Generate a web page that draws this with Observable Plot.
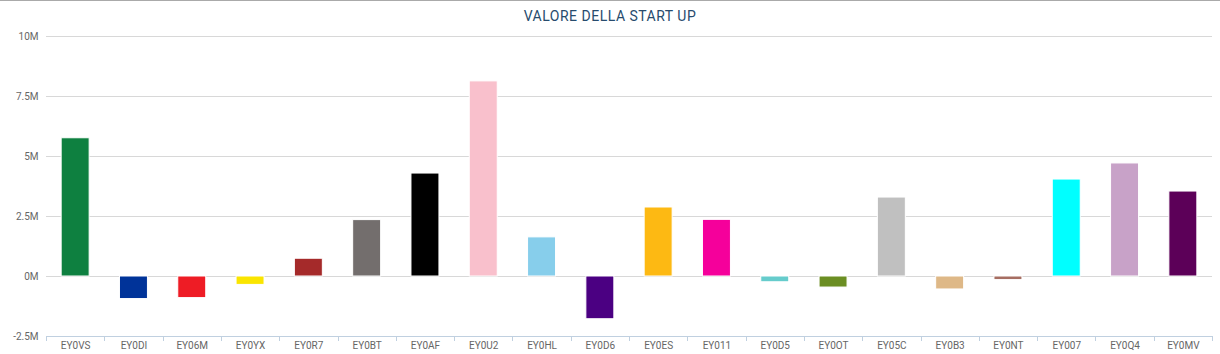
<!DOCTYPE html>
<html>
<head>
<meta charset="utf-8">
<script src="https://cdn.jsdelivr.net/npm/d3@7"></script>
<script src="https://cdn.jsdelivr.net/npm/@observablehq/plot@0.6"></script>
<style>
  html, body { margin: 0; padding: 0; background: #fff; }
  #wrap { width: 1220px; height: 354px; border-top: 1px solid #aaa; box-sizing: border-box; overflow: hidden; }
  #title { height: 29px; line-height: 29px; padding-top: 1px; box-sizing: border-box; text-align: center;
           font-family: Roboto, sans-serif; font-size: 14px; letter-spacing: 0.5px; color: #274b6d; }
  svg { display: block; }
</style>
</head>
<body>
<div id="wrap">
  <div id="title">VALORE DELLA START UP</div>
  <div id="chart"></div>
</div>
<script>
const categories = ["EY0VS","EY0DI","EY06M","EY0YX","EY0R7","EY0BT","EY0AF","EY0U2","EY0HL","EY0D6",
                    "EY0ES","EY011","EY0D5","EY0OT","EY05C","EY0B3","EY0NT","EY007","EY0Q4","EY0MV"];
const values = [5.76e6, -0.94e6, -0.90e6, -0.35e6, 0.74e6, 2.35e6, 4.29e6, 8.13e6, 1.63e6, -1.78e6,
                2.875e6, 2.36e6, -0.24e6, -0.46e6, 3.29e6, -0.54e6, -0.15e6, 4.04e6, 4.71e6, 3.54e6];
const colors = ["#0e8040","#003399","#ee1c25","#fae500","#a52a2a","#736e6d","#000000","#f9c0cc","#87ceeb","#4b0082",
                "#fdb913","#f5009b","#66cccc","#6b8e23","#c0c0c0","#deb887","#a66e62","#00ffff","#c8a2c8","#5c0058"];
const yTicks = [-2.5e6, 0, 2.5e6, 5e6, 7.5e6, 10e6];

const data = categories.map((c, i) => ({cat: c, val: values[i], color: colors[i]}));

const plot = Plot.plot({
  width: 1220,
  height: 324,
  marginLeft: 46,
  marginRight: 8,
  marginTop: 6,
  marginBottom: 18,
  style: {fontFamily: "Roboto, sans-serif", fontSize: "10px", color: "#666", background: "#fff"},
  x: {domain: categories, paddingInner: 0.52, paddingOuter: 0.26, round: false, tickSize: 0, tickPadding: 5, label: null},
  y: {domain: [-2.5e6, 10e6], ticks: yTicks, tickSize: 0, tickPadding: 8, label: null,
      tickFormat: d => (d / 1e6) + "M"},
  marks: [
    Plot.ruleY(yTicks.slice(1), {stroke: "#d8d8d8", strokeWidth: 1}),
    Plot.ruleY([yTicks[0]], {stroke: "#c0d0e0", strokeWidth: 1}),
    Plot.barY(data, {x: "cat", y: "val", fill: "color", stroke: "#fff", strokeWidth: 1})
  ]
});

// category boundary ticks on the x axis (Highcharts style), placed with Plot's scales
const xs = plot.scale("x");
const ys = plot.scale("y");
const step = xs.step;
const y0 = ys.apply(yTicks[0]);
const bounds = categories.map(c => xs.apply(c) + xs.bandwidth / 2 - step / 2);
bounds.push(bounds[bounds.length - 1] + step);
d3.select(plot).append("g")
  .selectAll("line").data(bounds).join("line")
  .attr("x1", d => Math.round(d) + 0.5).attr("x2", d => Math.round(d) + 0.5)
  .attr("y1", y0).attr("y2", y0 + 5)
  .attr("stroke", "#c0d0e0");

document.getElementById("chart").appendChild(plot);
</script>
</body>
</html>
